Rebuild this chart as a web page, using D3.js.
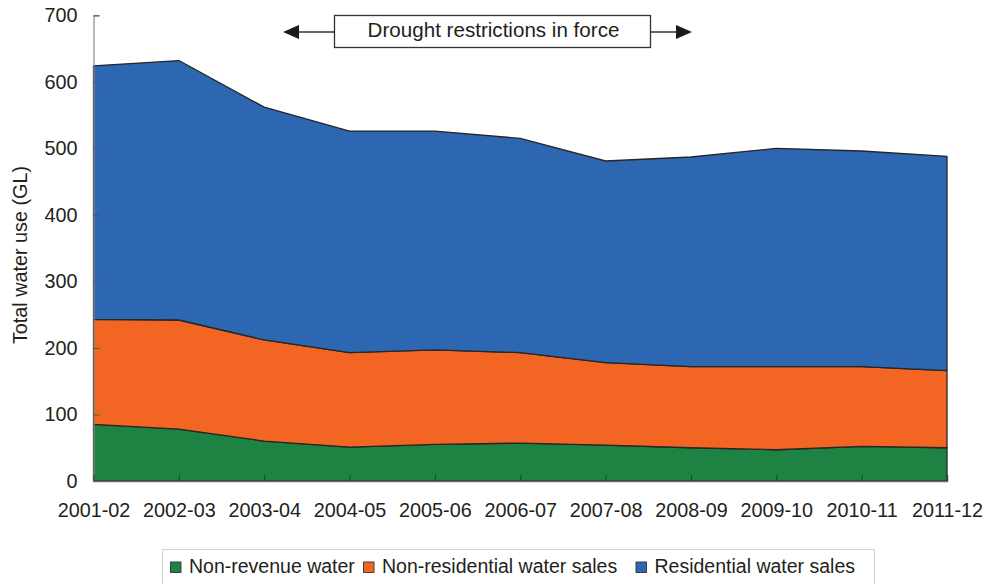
<!DOCTYPE html>
<html><head><meta charset="utf-8">
<script src="https://cdn.jsdelivr.net/npm/d3@7"></script>
<style>body{margin:0;background:#fff}svg{display:block}text{font-family:"Liberation Sans",Arial,sans-serif;fill:#231f20}</style>
</head><body><svg id="c" width="988" height="584"></svg>
<script>
const categories = ["2001-02","2002-03","2003-04","2004-05","2005-06","2006-07","2007-08","2008-09","2009-10","2010-11","2011-12"];
const nonRevenue = [85, 78, 60, 51, 55, 57, 54, 50, 47, 52, 50];
const nonResidential = [158, 164, 152, 142, 142, 136, 124, 122, 125, 120, 116];
const residential = [381, 390, 350, 333, 329, 322, 303, 315, 328, 324, 322];
const seriesNames = ["Non-revenue water", "Non-residential water sales", "Residential water sales"];
const seriesColors = ["#1e8242", "#f26522", "#2e67b1"];
const yTicks = [0,100,200,300,400,500,600,700];
const annotationText = "Drought restrictions in force";

(function () {
const svg = d3.select("#c");
const pL = 93.5, pR = 947, pT = 15.3, pB = 481;
const x = d3.scalePoint().domain(categories).range([pL, pR]);
const y = d3.scaleLinear().domain([0, 700]).range([pB, pT]);

const rows = categories.map((c, i) => ({cat: c, a: nonRevenue[i], b: nonResidential[i], c2: residential[i]}));
const stack = d3.stack().keys(["a","b","c2"]);
const layers = stack(rows);
const area = d3.area().x(d => x(d.data.cat)).y0(d => y(d[0])).y1(d => y(d[1]));

svg.append("g").selectAll("path").data(layers).join("path")
  .attr("d", area).attr("fill", (d,i) => seriesColors[i])
  .attr("stroke", "#262626").attr("stroke-width", 1.3).attr("stroke-linejoin","round");

// axes
const yAxis = d3.axisLeft(y).tickValues(yTicks).tickSize(-6).tickPadding(16).tickFormat(d3.format("d"));
const gy = svg.append("g").attr("transform", `translate(${pL},0)`).call(yAxis);
gy.select(".domain").attr("stroke", "#8a8a8a").attr("stroke-width", 1.2);
gy.selectAll(".tick line").attr("stroke", "#555");
gy.selectAll(".tick text").attr("font-size", 19.8).attr("fill", "#231f20").attr("font-family", '"Liberation Sans",Arial,sans-serif');

const xAxis = d3.axisBottom(x).tickSize(-6).tickPadding(22);
const gx = svg.append("g").attr("transform", `translate(0,${pB})`).call(xAxis);
gx.select(".domain").attr("stroke", "#6d6d6d").attr("stroke-width", 1.5);
gx.selectAll(".tick line").attr("stroke", "#333");
gx.selectAll(".tick text").attr("font-size", 19.8).attr("fill", "#231f20").attr("font-family", '"Liberation Sans",Arial,sans-serif');

svg.append("text").attr("transform", "translate(27,255) rotate(-90)")
  .attr("text-anchor", "middle").attr("font-size", 19.8).text("Total water use (GL)");

// annotation
const ann = svg.append("g");
const bx0 = 334.5, bx1 = 650.5, by0 = 15.5, by1 = 47.5, ay = 32;
ann.append("line").attr("x1", 290).attr("x2", bx0).attr("y1", ay).attr("y2", ay).attr("stroke", "#333").attr("stroke-width", 1.3);
ann.append("line").attr("x1", bx1).attr("x2", 684).attr("y1", ay).attr("y2", ay).attr("stroke", "#333").attr("stroke-width", 1.3);
ann.append("path").attr("d", `M283,${ay} L299,${ay-7} L299,${ay+7} Z`).attr("fill", "#1a1a1a");
ann.append("path").attr("d", `M692,${ay} L676,${ay-7} L676,${ay+7} Z`).attr("fill", "#1a1a1a");
ann.append("rect").attr("x", bx0).attr("y", by0).attr("width", bx1-bx0).attr("height", by1-by0)
  .attr("fill", "#fff").attr("stroke", "#333").attr("stroke-width", 1.3);
ann.append("text").attr("x", (bx0+bx1)/2 + 1).attr("y", 37).attr("text-anchor", "middle").attr("font-size", 20.6).text(annotationText);

// legend
const lg = svg.append("g");
lg.append("rect").attr("x", 162.5).attr("y", 549.5).attr("width", 712).attr("height", 60)
  .attr("fill", "#fff").attr("stroke", "#d6d6d6").attr("stroke-width", 1.2);
const itemX = [170.5, 363.5, 636];
seriesNames.forEach((n, i) => {
  lg.append("rect").attr("x", itemX[i]).attr("y", 562).attr("width", 10.5).attr("height", 10.5)
    .attr("fill", seriesColors[i]).attr("stroke", "#333").attr("stroke-width", 0.9);
  lg.append("text").attr("x", itemX[i] + 18.5).attr("y", 572.5).attr("font-size", 19.5).text(n);
});
})();
</script></body></html>
